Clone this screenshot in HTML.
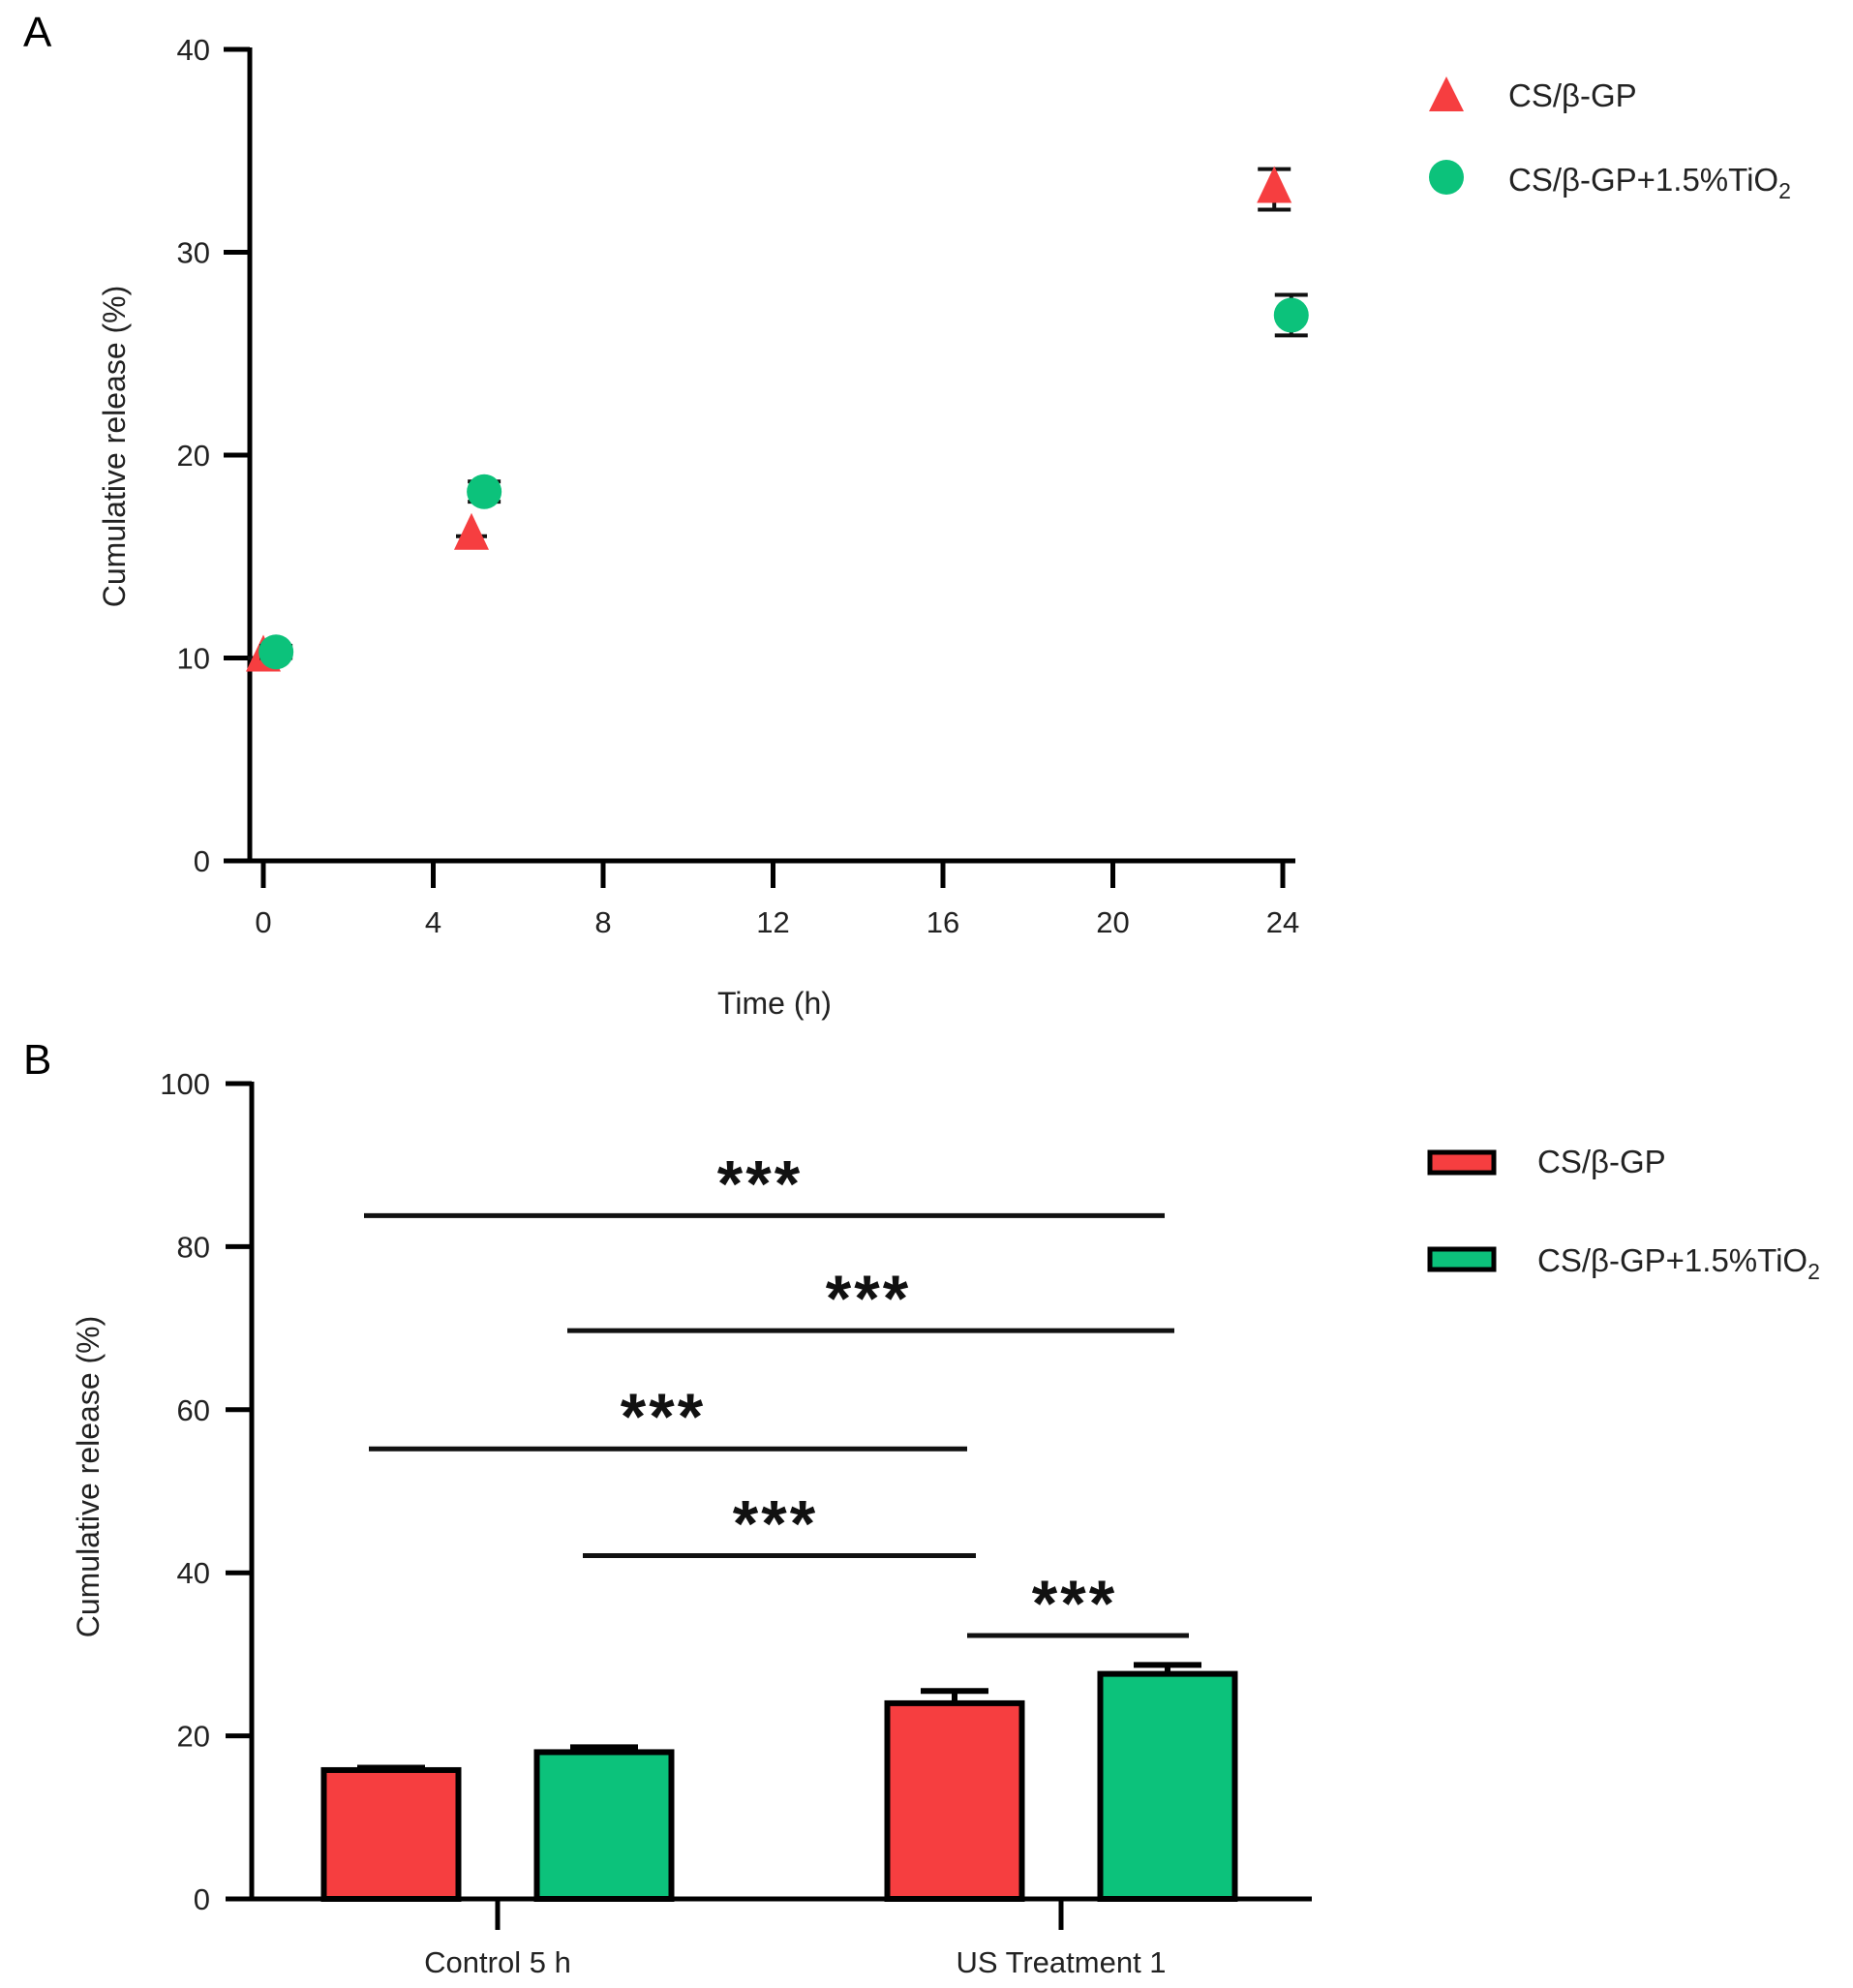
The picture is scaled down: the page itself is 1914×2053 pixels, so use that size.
<!DOCTYPE html>
<html><head><meta charset="utf-8"><style>
html,body{margin:0;padding:0;background:#fff;}
svg{display:block;font-family:"Liberation Sans",sans-serif;}
</style></head><body>
<svg id="fig" width="1914" height="2053" viewBox="0 0 1914 2053" xmlns="http://www.w3.org/2000/svg">
<g id="pa"></g>
<g id="pb"></g>
</svg>
<script>
// Panel A data
const aTimesRed = [0, 4.9, 23.8];
const aValsRed = [10.0, 16.0, 33.1];
const aErrRed = [0.2, 0.3, 1.0];
const aTimesGreen = [0.3, 5.2, 24.2];
const aValsGreen = [10.3, 18.2, 26.9];
const aErrGreen = [0.3, 0.5, 1.0];
const aXTicks = [0, 4, 8, 12, 16, 20, 24];
const aYTicks = [0, 10, 20, 30, 40];
// Panel B data
const bGroups = ["Control 5 h", "US Treatment 1"];
const bRed = [15.8, 24.0];
const bRedErr = [0.3, 1.5];
const bGreen = [18.0, 27.6];
const bGreenErr = [0.6, 1.1];
const bYTicks = [0, 20, 40, 60, 80, 100];
const bSigLevels = [83.8, 69.7, 55.2, 42.1, 32.3];

const NS = "http://www.w3.org/2000/svg";
const RED = "#f63e40", GREEN = "#0cc27b";
function mk(parent, tag, attrs, text) {
  const e = document.createElementNS(NS, tag);
  for (const k in attrs) e.setAttribute(k, attrs[k]);
  if (text !== undefined) e.textContent = text;
  parent.appendChild(e);
  return e;
}
// ---- Panel A ----
const pa = document.getElementById("pa");
const ax = t => 272 + (t / 24) * (1325 - 272);
const ay = v => 889 - (v / 40) * (889 - 51);
let e;
e = mk(pa, "text", {x: 24, y: 48, "font-size": 44}, "A");


e = mk(pa, "line", {x1: 258, y1: 49, x2: 258, y2: 891, stroke: "#000", "stroke-width": 5});


e = mk(pa, "line", {x1: 256, y1: 889, x2: 1338, y2: 889, stroke: "#000", "stroke-width": 5});


aYTicks.forEach(v => {
  e = mk(pa, "line", {x1: 231, y1: ay(v), x2: 258, y2: ay(v), stroke: "#000", "stroke-width": 5});
  
  
  e = mk(pa, "text", {x: 217, y: ay(v) + 11, "font-size": 31, "text-anchor": "end", fill: "#222"}, String(v));
  
  
});
aXTicks.forEach(t => {
  e = mk(pa, "line", {x1: ax(t), y1: 889, x2: ax(t), y2: 917, stroke: "#000", "stroke-width": 5});
  
  
  e = mk(pa, "text", {x: ax(t), y: 963, "font-size": 31, "text-anchor": "middle", fill: "#222"}, String(t));
  
  
});
e = mk(pa, "text", {x: 800, y: 1047, "font-size": 32, "text-anchor": "middle", fill: "#222"}, "Time (h)");


e = mk(pa, "text", {x: 0, y: 0, "font-size": 32, "text-anchor": "middle", fill: "#222", transform: "translate(129,461) rotate(-90)"}, "Cumulative release (%)");


function errbar(g, x, y1, y2, w) {
  const p = mk(g, "path", {d: `M${x-w},${y1}H${x+w}M${x},${y1}V${y2}M${x-w},${y2}H${x+w}`, stroke: "#111", "stroke-width": 4, fill: "none"});
  
  
}
aTimesRed.forEach((t, i) => {
  const x = ax(t), y = ay(aValsRed[i]);
  if (aErrRed[i] > 0.5) errbar(pa, x, ay(aValsRed[i] + aErrRed[i]), ay(aValsRed[i] - aErrRed[i]), 17);
  else { e = mk(pa, "line", {x1: x - 16, y1: y, x2: x + 16, y2: y, stroke: "#111", "stroke-width": 4});   }
  e = mk(pa, "polygon", {points: `${x},${y - 24} ${x - 18},${y + 14} ${x + 18},${y + 14}`, fill: RED});
  
  
});
aTimesGreen.forEach((t, i) => {
  const x = ax(t), y = ay(aValsGreen[i]);
  errbar(pa, x, ay(aValsGreen[i] + aErrGreen[i]), ay(aValsGreen[i] - aErrGreen[i]), 17);
  e = mk(pa, "circle", {cx: x, cy: y, r: 18, fill: GREEN});
  
  
});
e = mk(pa, "polygon", {points: "1494,79 1476,115 1512,115", fill: RED});


e = mk(pa, "text", {x: 1558, y: 110, "font-size": 33, fill: "#222"}, "CS/β-GP");


e = mk(pa, "circle", {cx: 1494, cy: 183, r: 18, fill: GREEN});


e = mk(pa, "text", {x: 1558, y: 197, "font-size": 33, fill: "#222"});
e.innerHTML = 'CS/β-GP+1.5%TiO<tspan dy="8" font-size="23">2</tspan>';



// ---- Panel B ----
const pb = document.getElementById("pb");
const by = v => 1961 - (v / 100) * (1961 - 1119);
const groupX = [514, 1096];
const barW = 139, offset = 110;
e = mk(pb, "text", {x: 24, y: 1109, "font-size": 44}, "B");


e = mk(pb, "line", {x1: 260, y1: 1117, x2: 260, y2: 1963, stroke: "#000", "stroke-width": 5});


bYTicks.forEach(v => {
  e = mk(pb, "line", {x1: 233, y1: by(v), x2: 260, y2: by(v), stroke: "#000", "stroke-width": 5});
  
  
  e = mk(pb, "text", {x: 217, y: by(v) + 11, "font-size": 31, "text-anchor": "end", fill: "#222"}, String(v));
  
  
});
e = mk(pb, "text", {x: 0, y: 0, "font-size": 32, "text-anchor": "middle", fill: "#222", transform: "translate(102,1525) rotate(-90)"}, "Cumulative release (%)");


function bar(x, v, err, color, name) {
  const y = by(v);
  const ye = by(v + err);
  const p = mk(pb, "path", {d: `M${x - 35},${ye}H${x + 35}M${x},${ye}V${y}`, stroke: "#000", "stroke-width": 6, fill: "none"});
  
  
  const r = mk(pb, "rect", {x: x - barW / 2, y: y, width: barW, height: 1961 - y, fill: color, stroke: "#000", "stroke-width": 6});
  
  
}
bGroups.forEach((g, i) => {
  bar(groupX[i] - offset, bRed[i], bRedErr[i], RED, 'bar-cs-bgp');
  bar(groupX[i] + offset, bGreen[i], bGreenErr[i], GREEN, 'bar-cs-bgp-tio2');
  e = mk(pb, "line", {x1: groupX[i], y1: 1961, x2: groupX[i], y2: 1993, stroke: "#000", "stroke-width": 5});
  
  
  e = mk(pb, "text", {x: groupX[i], y: 2037, "font-size": 31, "text-anchor": "middle", fill: "#222"}, g);
  
  
});
e = mk(pb, "line", {x1: 233, y1: 1961, x2: 1355, y2: 1961, stroke: "#000", "stroke-width": 5});


const sigX1 = [376, 586, 381, 602, 999];
const sigX2 = [1203, 1213, 999, 1008, 1228];
const starX = [785, 897, 685, 801, 1110];
bSigLevels.forEach((v, i) => {
  e = mk(pb, "line", {x1: sigX1[i], y1: by(v), x2: sigX2[i], y2: by(v), stroke: "#111", "stroke-width": 5});
  
  
  e = mk(pb, "text", {x: starX[i], y: by(v) - 10, "font-size": 68, "font-weight": "bold", "text-anchor": "middle", fill: "#111", "letter-spacing": "3"}, "***");
  
  
});
e = mk(pb, "rect", {x: 1477, y: 1190, width: 66, height: 21, fill: RED, stroke: "#000", "stroke-width": 5});


e = mk(pb, "text", {x: 1588, y: 1211, "font-size": 33, fill: "#222"}, "CS/β-GP");


e = mk(pb, "rect", {x: 1477, y: 1290, width: 66, height: 21, fill: GREEN, stroke: "#000", "stroke-width": 5});


e = mk(pb, "text", {x: 1588, y: 1313, "font-size": 33, fill: "#222"});
e.innerHTML = 'CS/β-GP+1.5%TiO<tspan dy="8" font-size="23">2</tspan>';


</script>
</body></html>
